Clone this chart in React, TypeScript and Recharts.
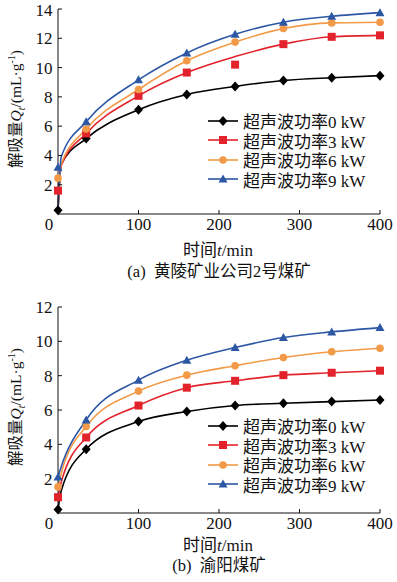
import React from "react";
import { ComposedChart, Line, Scatter, XAxis, YAxis } from "recharts";

// measured times (min)
const TIME = [0, 35, 100, 160, 220, 280, 340, 400];
// fitted curve sample times
const FIT_TIME = [0, 4, 35, 100, 160, 220, 280, 340, 400];

const X_TICKS = [0, 100, 200, 300, 400];

// (a) 黄陵矿业公司2号煤矿
const HL_0 = [0.25, 5.15, 7.12, 8.16, 8.71, 9.12, 9.31, 9.45];
const HL_3 = [1.6, 5.5, 8.07, 9.66, 10.2, 11.6, 12.1, 12.2];
const HL_6 = [2.45, 5.8, 8.5, 10.47, 11.74, 12.67, 13.05, 13.1];
const HL_9 = [3.2, 6.3, 9.16, 11.0, 12.27, 13.1, 13.5, 13.75];
const HL_FIT_0 = [0.25, 3.4, 5.15, 7.12, 8.16, 8.71, 9.12, 9.31, 9.45];
const HL_FIT_3 = [0.25, 3.3, 5.5, 8.07, 9.66, 10.75, 11.6, 12.1, 12.2];
const HL_FIT_6 = [0.25, 3.4, 5.8, 8.5, 10.47, 11.74, 12.67, 13.05, 13.1];
const HL_FIT_9 = [0.25, 3.9, 6.3, 9.16, 11.0, 12.27, 13.1, 13.5, 13.75];
const HL_Y_TICKS = [2, 4, 6, 8, 10, 12, 14];

// (b) 渝阳煤矿
const YY_0 = [0.2, 3.72, 5.33, 5.91, 6.26, 6.39, 6.49, 6.58];
const YY_3 = [0.92, 4.4, 6.26, 7.3, 7.7, 8.03, 8.17, 8.29];
const YY_6 = [1.52, 5.04, 7.1, 8.03, 8.58, 9.06, 9.39, 9.6];
const YY_9 = [2.1, 5.42, 7.74, 8.9, 9.64, 10.22, 10.55, 10.8];
const YY_FIT_0 = [0.2, 1.3, 3.72, 5.33, 5.91, 6.26, 6.39, 6.49, 6.58];
const YY_FIT_3 = [0.92, 1.8, 4.4, 6.26, 7.3, 7.7, 8.03, 8.17, 8.29];
const YY_FIT_6 = [1.52, 2.3, 5.04, 7.1, 8.03, 8.58, 9.06, 9.39, 9.6];
const YY_FIT_9 = [2.1, 2.7, 5.42, 7.74, 8.9, 9.64, 10.22, 10.55, 10.8];
const YY_Y_TICKS = [2, 4, 6, 8, 10, 12];

const LABELS = ["超声波功率0 kW", "超声波功率3 kW", "超声波功率6 kW", "超声波功率9 kW"];
const COLORS = ["#000000", "#e3232b", "#f29a47", "#2c57a5"];
const SHAPES = ["diamond", "square", "circle", "triangle"];

const FONT = "'Liberation Serif', 'Noto Sans CJK SC', serif";

const pts = (ts: number[], vs: number[]) => ts.map((t, i) => ({ t, q: vs[i] }));

function Marker({ cx, cy, kind, color }: { cx: number; cy: number; kind: string; color: string }) {
  if (kind === "diamond")
    return <path d={`M${cx},${cy - 5}L${cx + 4.5},${cy}L${cx},${cy + 5}L${cx - 4.5},${cy}Z`} fill={color} />;
  if (kind === "square") return <rect x={cx - 4} y={cy - 4} width={8} height={8} fill={color} />;
  if (kind === "circle") return <circle cx={cx} cy={cy} r={3.8} fill={color} />;
  return <path d={`M${cx},${cy - 4.5}L${cx + 4.5},${cy + 3.5}L${cx - 4.5},${cy + 3.5}Z`} fill={color} />;
}

const XTick = (props: any) => {
  const { x, y, payload } = props;
  return (
    <text x={x + (payload.value === 0 ? -9 : 0)} y={y} dy="0.71em" textAnchor="middle" fontSize={17} fontFamily={FONT} fill="#111">
      {payload.value}
    </text>
  );
};

function Legend({ left, top }: { left: number; top: number }) {
  return (
    <div style={{ position: "absolute", left, top, fontFamily: FONT, fontSize: 17, color: "#111" }}>
      {LABELS.map((l, i) => (
        <div key={l} style={{ display: "flex", alignItems: "center", height: 19.5 }}>
          <svg width={32} height={12} style={{ marginRight: 4 }}>
            <line x1={1} y1={6} x2={31} y2={6} stroke={COLORS[i]} strokeWidth={1.6} />
            <Marker cx={16} cy={6} kind={SHAPES[i]} color={COLORS[i]} />
          </svg>
          <span style={{ whiteSpace: "nowrap" }}>{l}</span>
        </div>
      ))}
    </div>
  );
}

function Panel({
  top, height, marginTop, yMax, yTicks, measured, fits, legendTop, caption, titleGap, captionGap,
}: {
  top: number; height: number; marginTop: number; yMax: number; yTicks: number[];
  measured: number[][]; fits: number[][]; legendTop: number; caption: string;
  titleGap: number; captionGap: number;
}) {
  const plotBottom = top + height - 26;
  const plotMid = (top + marginTop + plotBottom) / 2;
  return (
    <>
      <div style={{ position: "absolute", left: 0, top }}>
        <ComposedChart width={397} height={height} margin={{ top: marginTop, right: 17, bottom: 0, left: 0 }}>
          <XAxis
            type="number"
            dataKey="t"
            domain={[0, 400]}
            ticks={X_TICKS}
            height={26}
            tickSize={-4}
            tickMargin={8}
            stroke="#111"
            tick={<XTick />}
            allowDuplicatedCategory={false}
          />
          <YAxis
            type="number"
            dataKey="q"
            domain={[0, yMax]}
            ticks={yTicks}
            width={58}
            tickSize={-4}
            tickMargin={9.5}
            stroke="#111"
            tick={{ fontSize: 17, fontFamily: FONT, fill: "#111" }}
          />
          {fits.map((f, i) => (
            <Line
              key={"f" + i}
              data={pts(FIT_TIME, f)}
              dataKey="q"
              type="monotone"
              stroke={COLORS[i]}
              strokeWidth={1.6}
              dot={false}
              activeDot={false}
              isAnimationActive={false}
            />
          ))}
          {measured.map((m, i) => (
            <Scatter
              key={"m" + i}
              data={pts(TIME, m)}
              dataKey="q"
              fill={COLORS[i]}
              isAnimationActive={false}
              shape={(p: any) => <Marker cx={p.cx} cy={p.cy} kind={SHAPES[i]} color={COLORS[i]} />}
            />
          ))}
        </ComposedChart>
      </div>
      <div
        style={{
          position: "absolute", left: 15, top: plotMid - 3, transform: "translate(-50%, -50%) rotate(-90deg)",
          whiteSpace: "nowrap", fontFamily: FONT, fontSize: 15.5, color: "#111",
        }}
      >
        解吸量<i>Q</i><sub style={{ fontSize: 10 }}><i>t</i></sub>/(mL·g<sup style={{ fontSize: 10 }}>-1</sup>)
      </div>
      <div
        style={{
          position: "absolute", left: 218, top: plotBottom + titleGap, transform: "translate(-50%, -50%)",
          whiteSpace: "nowrap", fontFamily: FONT, fontSize: 17, color: "#111",
        }}
      >
        时间<i>t</i>/min
      </div>
      <div
        style={{
          position: "absolute", left: 219, top: plotBottom + captionGap, transform: "translate(-50%, -50%)",
          whiteSpace: "pre", fontFamily: FONT, fontSize: 16.5, color: "#111",
        }}
      >
        {caption}
      </div>
      <Legend left={207} top={legendTop} />
    </>
  );
}

export default function App() {
  return (
    <div style={{ position: "absolute", left: 0, top: 0, width: 397, height: 582, background: "#fff", overflow: "hidden" }}>
      <Panel
        top={0}
        height={240}
        marginTop={9}
        yMax={14}
        yTicks={HL_Y_TICKS}
        measured={[HL_0, HL_3, HL_6, HL_9]}
        fits={[HL_FIT_0, HL_FIT_3, HL_FIT_6, HL_FIT_9]}
        legendTop={111}
        caption="(a)  黄陵矿业公司2号煤矿"
        titleGap={34}
        captionGap={56}
      />
      <Panel
        top={297}
        height={242}
        marginTop={10}
        yMax={12}
        yTicks={YY_Y_TICKS}
        measured={[YY_0, YY_3, YY_6, YY_9]}
        fits={[YY_FIT_0, YY_FIT_3, YY_FIT_6, YY_FIT_9]}
        legendTop={416}
        caption="(b)  渝阳煤矿"
        titleGap={30}
        captionGap={51}
      />
    </div>
  );
}
